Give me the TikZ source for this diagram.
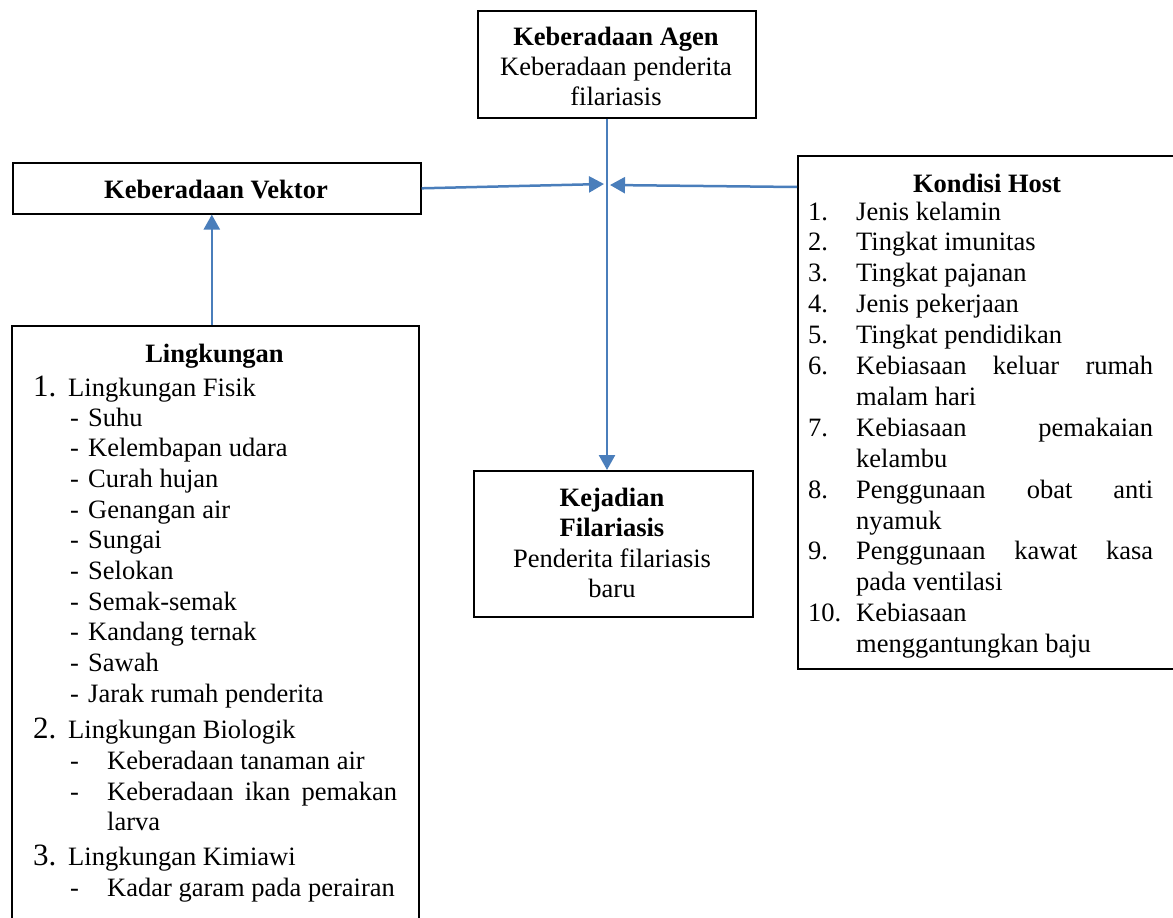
\documentclass[tikz,border=0pt]{standalone}
\usepackage{fontspec}
\setmainfont{Liberation Serif}
\usetikzlibrary{arrows.meta}
\definecolor{arrowblue}{HTML}{4A7EBB}
\newcommand{\fs}{\fontsize{26.5}{31}\selectfont}
\newcommand{\fnum}{\fontsize{31}{31}\selectfont}
\newcommand{\jline}[2]{\makebox[#1pt][s]{#2}}
\tikzset{
  box/.style={draw=black, line width=1.6pt, inner sep=0pt, anchor=north west},
  conn/.style={draw=arrowblue, line width=2.5pt, -{Triangle[length=15pt,width=16pt]}},
  plain/.style={draw=arrowblue, line width=2.5pt},
  txt/.style={anchor=base west, inner sep=0pt, font=\fs},
  ctxt/.style={anchor=base, inner sep=0pt, font=\fs},
  btxt/.style={anchor=base, inner sep=0pt, font=\fs\bfseries},
  ntxt/.style={anchor=base west, inner sep=0pt, font=\fnum},
}
\begin{document}
\begin{tikzpicture}[x=1pt,y=-1pt]
\useasboundingbox (0,0) rectangle (1173,918);
\clip (0,0) rectangle (1173,918);

% boxes
\node[box, minimum width=278pt, minimum height=107pt] (agen) at (477,10) {};
\node[box, minimum width=408pt, minimum height=51pt] (vek) at (12,162) {};
\node[box, minimum width=279pt, minimum height=146pt] (kej) at (473,470) {};
\node[box, minimum width=407pt, minimum height=610pt] (ling) at (11,325) {};
\node[box, minimum width=390pt, minimum height=513pt] (host) at (797,155) {};

% texts
\node[btxt] (agen1) at (616,45) {Keberadaan Agen};
\node[ctxt] (agen2) at (616,75) {Keberadaan penderita};
\node[ctxt] (agen3) at (616,105) {filariasis};

\node[btxt] (vek1) at (216,198) {Keberadaan Vektor};

\node[btxt] (kej1) at (612,506) {Kejadian};
\node[btxt] (kej2) at (612,536) {Filariasis};
\node[ctxt] (kej3) at (612,567) {Penderita filariasis};
\node[ctxt] (kej4) at (612,597) {baru};

% Kondisi Host
\node[btxt] (hostT) at (987,192) {Kondisi Host};
\foreach \k/\n/\t in {
  0/1./Jenis kelamin,
  1/2./Tingkat imunitas,
  2/3./Tingkat pajanan,
  3/4./Jenis pekerjaan,
  4/5./Tingkat pendidikan,
  5/6./\jline{297}{Kebiasaan keluar rumah},
  6//malam hari,
  7/7./\jline{297}{Kebiasaan pemakaian},
  8//kelambu,
  9/8./\jline{297}{Penggunaan obat anti},
  10//nyamuk,
  11/9./\jline{297}{Penggunaan kawat kasa},
  12//pada ventilasi,
  13/10./Kebiasaan,
  14//menggantungkan baju}{
  \node[txt] (hn\k) at (808,{220+30.9*\k}) {\n};
  \node[txt] (ht\k) at (856,{220+30.9*\k}) {\t};
}

% Lingkungan
\node[btxt] (lingT) at (214.5,362) {Lingkungan};
\node[ntxt] (ln1) at (33,396) {1.};
\node[txt] (lt1) at (68,396) {Lingkungan Fisik};
\foreach \k/\t in {0/Suhu,1/Kelembapan udara,2/Curah hujan,3/Genangan air,4/Sungai,5/Selokan,6/Semak-semak,7/Kandang ternak,8/Sawah,9/Jarak rumah penderita}{
  \node[txt] (ld\k) at (70,{426+30.7*\k}) {-};
  \node[txt] (lf\k) at (88,{426+30.7*\k}) {\t};
}
\node[ntxt] (ln2) at (33,738) {2.};
\node[txt] (lt2) at (68,738) {Lingkungan Biologik};
\node[txt] (ldb1) at (70,769) {-};
\node[txt] (lb1) at (107,769) {Keberadaan tanaman air};
\node[txt] (ldb2) at (70,800) {-};
\node[txt] (lb2) at (107,800) {\jline{290}{Keberadaan ikan pemakan}};
\node[txt] (lb3) at (107,830) {larva};
\node[ntxt] (ln3) at (33,865) {3.};
\node[txt] (lt3) at (68,865) {Lingkungan Kimiawi};
\node[txt] (ldk1) at (70,896) {-};
\node[txt] (lk1) at (107,896) {Kadar garam pada perairan};

% connectors
\coordinate (hubL) at (604,184);
\coordinate (hubR) at (610,185);
\coordinate (vx) at (607,0);
\draw[conn] (vx |- agen.south) -- (vx |- kej.north);
\draw[conn] (vek.east) -- (hubL);
\draw[conn] ([yshift=-32pt]host.north west) -- (hubR);
\draw[conn] ([xshift=-3.5pt]ling.north) -- ([xshift=-3.5pt]ling.north |- vek.south);
\end{tikzpicture}
\end{document}
